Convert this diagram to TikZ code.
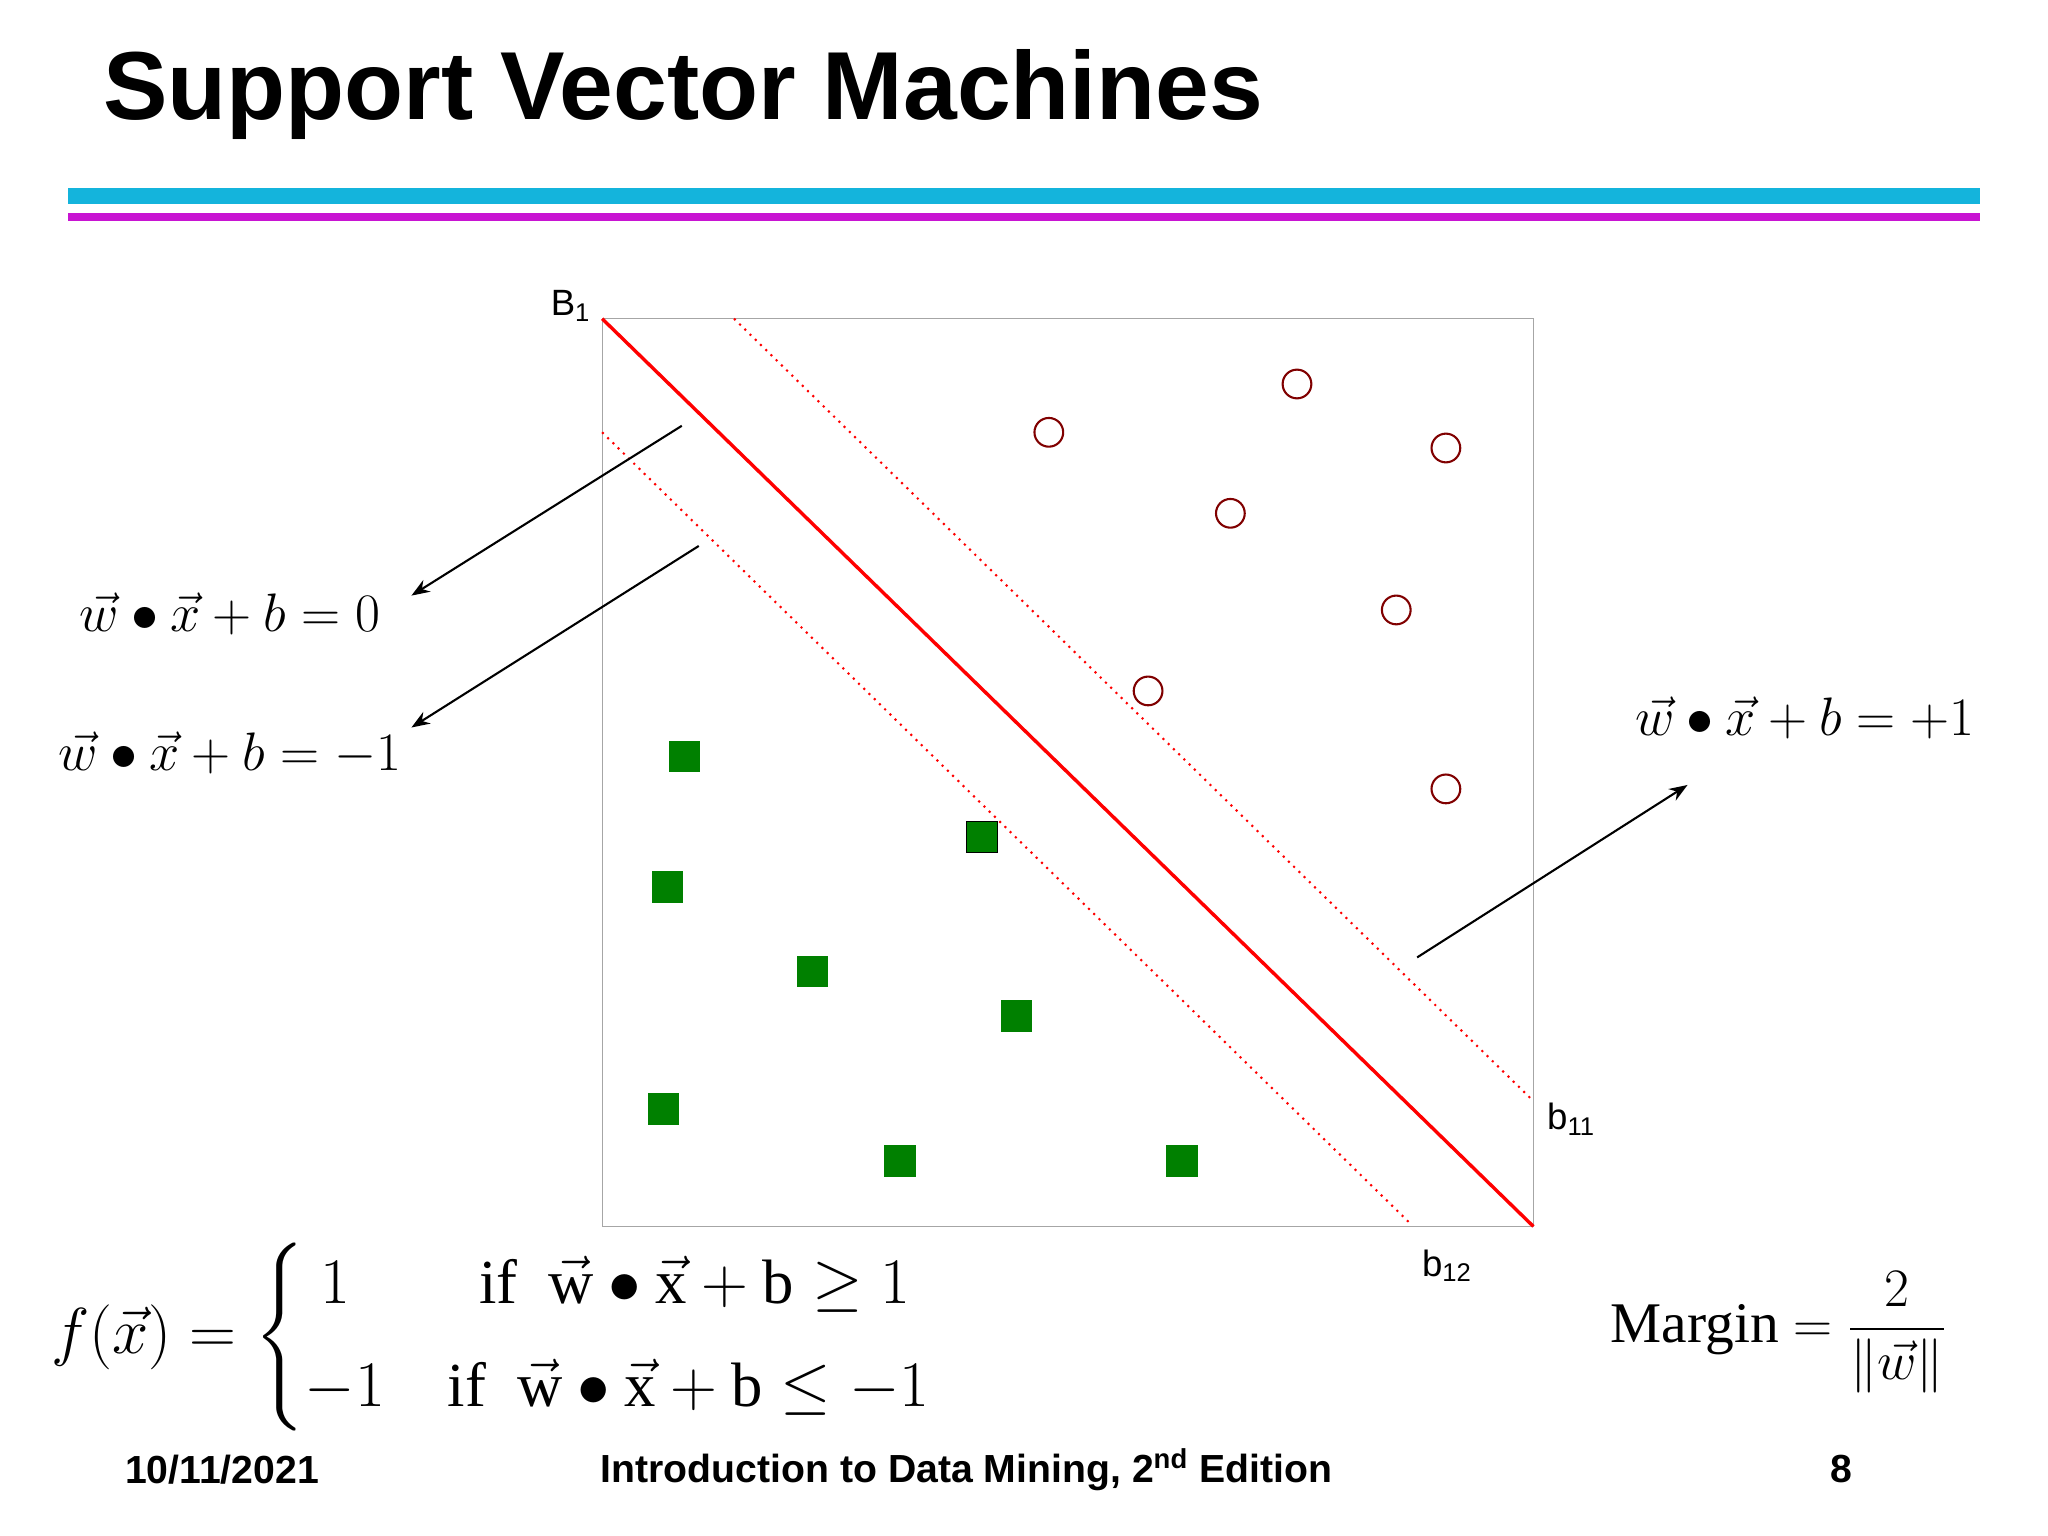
\documentclass[tikz,border=0pt]{standalone}
\usepackage{amsmath,amssymb}
\usepackage{fontspec}
\setmainfont{Liberation Serif}
\newfontfamily\hd{Liberation Sans}
\usetikzlibrary{arrows.meta}
\definecolor{bandc}{RGB}{20,180,220}
\definecolor{bandm}{RGB}{200,20,210}
\begin{document}
\begin{tikzpicture}[x=0.5pt,y=-0.5pt,
  circ/.style={draw=red!50!black,thick,circle,minimum size=11pt,inner sep=0},
  sq/.style={fill=green!50!black,minimum size=12pt,inner sep=0},
  arr/.style={-{Stealth[length=7pt]},thick},
  dotl/.style={red,dotted,thick},
  eq/.style={font=\fontsize{22}{26}\selectfont},
  foot/.style={font=\hd\bfseries\fontsize{15}{18}\selectfont}]
\useasboundingbox (0,0) rectangle (1568,1176);
\node[font=\hd\bfseries\fontsize{37}{40}\selectfont,anchor=west] (title) at (72,72) {Support Vector Machines};
\fill[bandc] (52,144) rectangle (1516,156);
\fill[bandm] (52,163) rectangle (1516,169);
\draw[gray!70] (461,244) rectangle (1174,939);
\coordinate (b1a) at (461,244); \coordinate (b1b) at (1174,939);
\coordinate (u1) at (562,244); \coordinate (u2) at (1174,843);
\coordinate (l1) at (461,331); \coordinate (l2) at (1080,937);
\draw[red,line width=1.3pt] (b1a) -- (b1b);
\draw[dotl] (u1) -- (u2);
\draw[dotl] (l1) -- (l2);
\node[font=\hd\fontsize{14}{16}\selectfont] (B1) at (437,234) {B\textsubscript{1}};
\node[font=\hd\fontsize{14}{16}\selectfont] (b11) at (1203,857) {b\textsubscript{11}};
\node[font=\hd\fontsize{14}{16}\selectfont] (b12) at (1108,969) {b\textsubscript{12}};
\foreach \p [count=\i] in {(803,331),(993,294),(1107,343),(942,393),(1069,467),(879,529),(1107,604)}
  \node[circ] (c\i) at \p {};
\foreach \p [count=\i] in {(524,579),(511,679),(622,744),(778,778),(508,849),(689,889),(905,889)}
  \node[sq] (s\i) at \p {};
\node[sq,draw=black] (s0) at (752,641) {};
\node[eq] (e0) at (176,470) {$\vec w\bullet\vec x+b=0$};
\node[eq] (e1) at (176,577) {$\vec w\bullet\vec x+b=-1$};
\node[eq] (e2) at (1382,550) {$\vec w\bullet\vec x+b=+1$};
\coordinate (a0) at (522,326); \coordinate (a1) at (535,418); \coordinate (a2) at (1085,733);
\coordinate (t0) at (315,456); \coordinate (t1) at (315,557); \coordinate (t2) at (1292,601);
\draw[arr] (a0) -- (t0);
\draw[arr] (a1) -- (t1);
\draw[arr] (a2) -- (t2);
\node[font=\fontsize{24}{28}\selectfont,anchor=west] (f) at (32,1024) {$f(\vec x)=\begin{cases}\ 1 & \ \ \text{if }\ \vec{\mathrm{w}}\bullet\vec{\mathrm{x}}+\mathrm{b}\ge 1\\[6pt] -1 & \text{if }\ \vec{\mathrm{w}}\bullet\vec{\mathrm{x}}+\mathrm{b}\le -1\end{cases}$};
\node[eq] (m) at (1362,1020) {Margin $=\dfrac{2}{\|\vec w\|}$};
\node[foot] (d) at (170,1125) {10/11/2021};
\node[foot] (c) at (740,1125) {Introduction to Data Mining, 2\textsuperscript{nd} Edition};
\node[foot] (n) at (1410,1125) {8};
\end{tikzpicture}
\end{document}
